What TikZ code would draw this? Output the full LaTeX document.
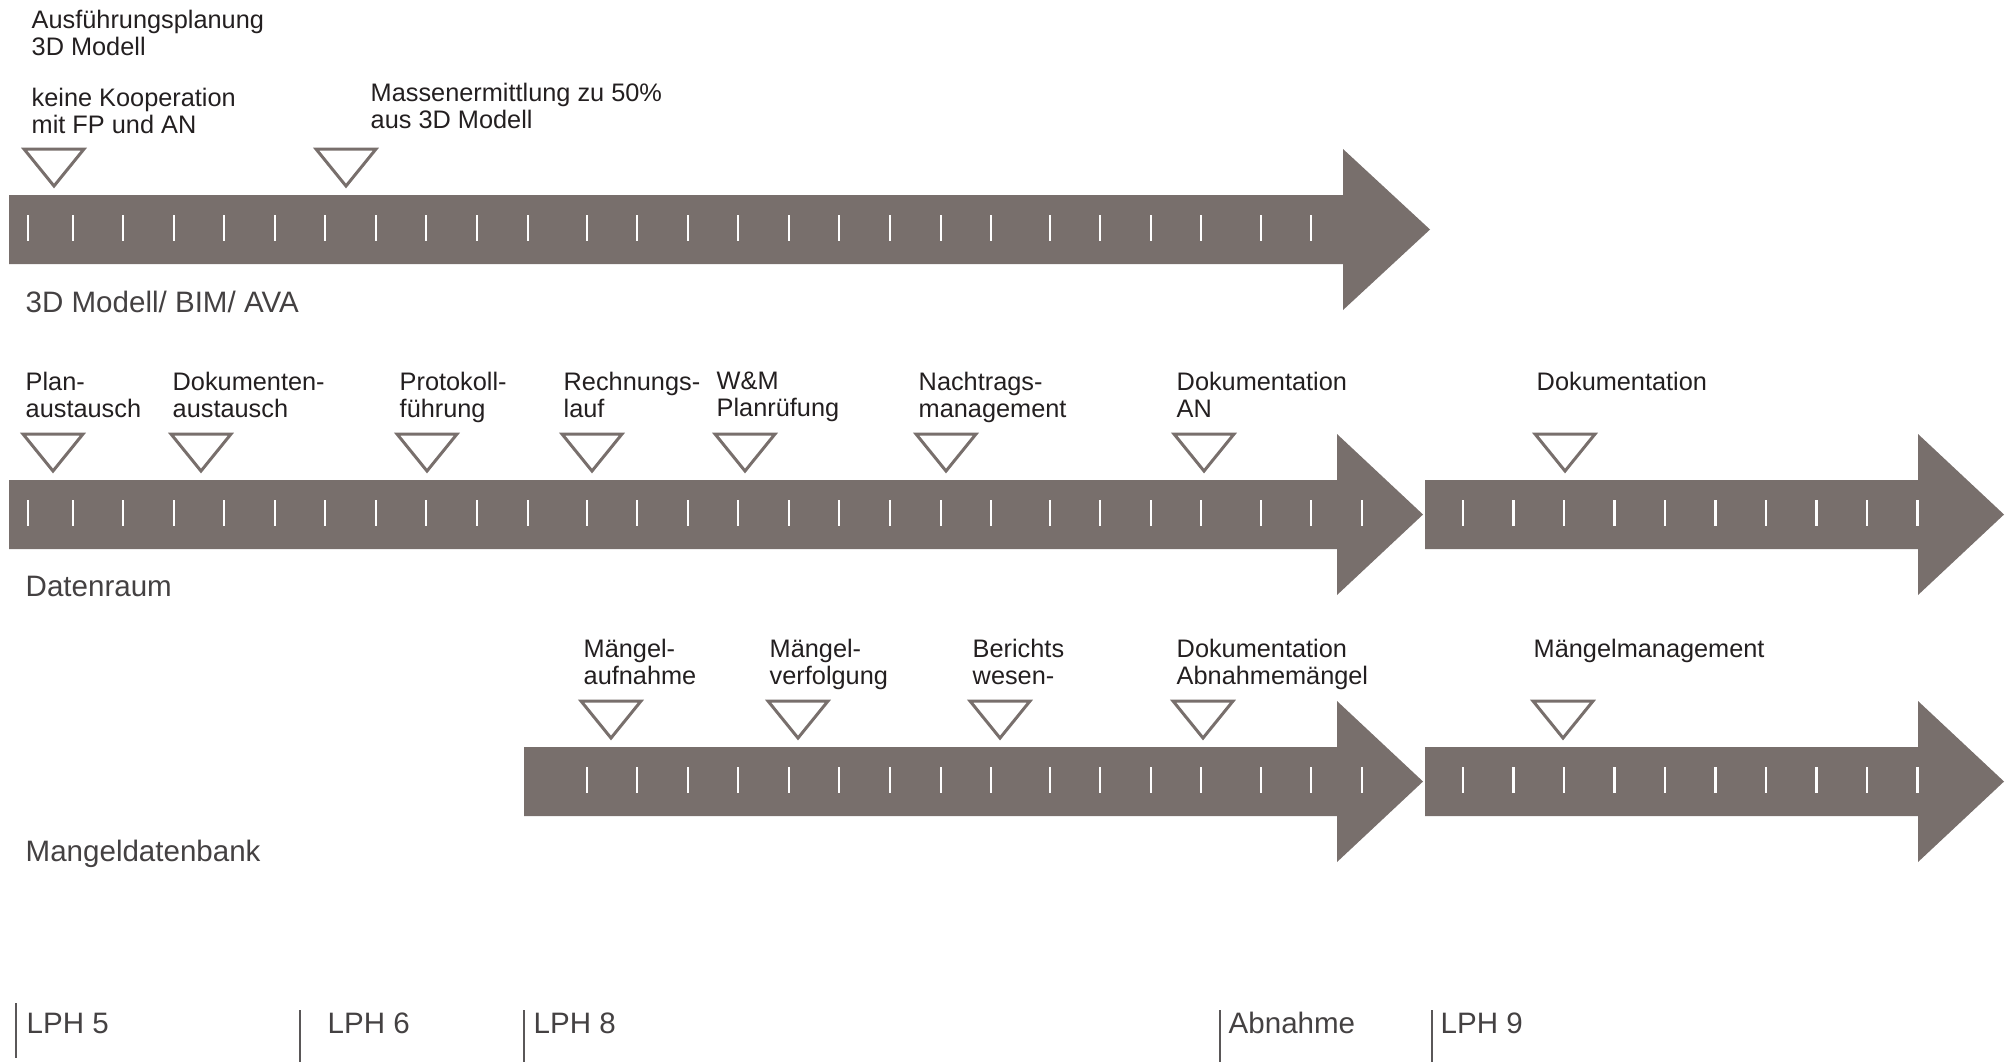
\documentclass[tikz,border=0pt]{standalone}
\usepackage{fontspec}
\setmainfont{Liberation Sans}
\usepackage{tikz}
\usepackage{xcolor}

\definecolor{bargray}{RGB}{120,111,108}
\definecolor{txtdark}{RGB}{35,31,32}

\begin{document}
\begin{tikzpicture}[x=0.01cm, y=-0.01cm,
        lbl/.style={anchor=north west, inner sep=0pt, align=left, text=txtdark, font=\fontsize{7.2pt}{7.7pt}\selectfont},
        rowname/.style={anchor=base west, inner sep=0pt, text=txtdark!85, font=\fontsize{8.4pt}{10pt}\selectfont},
        marker/.style={draw=bargray, line width=0.85pt, fill=white},
        bar/.style={fill=bargray},
        tickmark/.style={draw=white, line width=0.8pt},
        phase/.style={draw=txtdark!75, line width=0.8pt}]
        \useasboundingbox (0,0) rectangle (2010,1062);

        % 3D Modell/ BIM/ AVA
        \fill[bar] (9,195) -- (1343,195) -- (1343,149) -- (1430,229.5) -- (1343,310) -- (1343,264) -- (9,264) -- cycle;
        \foreach \x in {28,73,123,174,224,275,325,376,426,477,528,587,637,688,738,789,839,890,941,991,1050,1100,1151,1201,1261,1311}
            \draw[tickmark] (\x,215) -- (\x,241);
        \foreach \x in {54,346}
            \draw[marker] ({\x-30},149) -- ({\x+30},149) -- (\x,186) -- cycle;

        % Datenraum
        \fill[bar] (9,480) -- (1337,480) -- (1337,434) -- (1423,514.5) -- (1337,595) -- (1337,549) -- (9,549) -- cycle;
        \fill[bar] (1425,480) -- (1918,480) -- (1918,434) -- (2004,514.5) -- (1918,595) -- (1918,549) -- (1425,549) -- cycle;
        \foreach \x in {28,73,123,174,224,275,325,376,426,477,528,587,637,688,738,789,839,890,941,991,1050,1100,1151,1201,1261,1311,1362}
            \draw[tickmark] (\x,500) -- (\x,526);
        \foreach \i in {0,...,9}
            \draw[tickmark] ({1463+50.5*\i},500) -- ({1463+50.5*\i},526);
        \foreach \x in {53,201,427,592,745,946,1204,1565}
            \draw[marker] ({\x-30},434) -- ({\x+30},434) -- (\x,471) -- cycle;

        % Mangeldatenbank
        \fill[bar] (524,747) -- (1337,747) -- (1337,701) -- (1423,781.5) -- (1337,862) -- (1337,816) -- (524,816) -- cycle;
        \fill[bar] (1425,747) -- (1918,747) -- (1918,701) -- (2004,781.5) -- (1918,862) -- (1918,816) -- (1425,816) -- cycle;
        \foreach \x in {587,637,688,738,789,839,890,941,991,1050,1100,1151,1201,1261,1311,1362}
            \draw[tickmark] (\x,767) -- (\x,793);
        \foreach \i in {0,...,9}
            \draw[tickmark] ({1463+50.5*\i},767) -- ({1463+50.5*\i},793);
        \foreach \x in {611,798,1000,1203,1563}
            \draw[marker] ({\x-30},701) -- ({\x+30},701) -- (\x,738) -- cycle;

        % labels
        \node[lbl] (ausf) at (31,9.5) {Ausführungsplanung\\3D Modell};
        \node[lbl] (koop) at (31,87.5) {keine Kooperation\\mit FP und AN};
        \node[lbl] (masse) at (370,82.5) {Massenermittlung zu 50\%\\aus 3D Modell};

        \node[lbl] (plan) at (25,371.5) {Plan-\\austausch};
        \node[lbl] (dokaus) at (172,371.5) {Dokumenten-\\austausch};
        \node[lbl] (proto) at (399,371.5) {Protokoll-\\führung};
        \node[lbl] (rechn) at (563,371.5) {Rechnungs-\\lauf};
        \node[lbl] (wm) at (716,371.5) {W\&M\\Planrüfung};
        \node[lbl] (nachtr) at (918,371.5) {Nachtrags-\\management};
        \node[lbl] (dokan) at (1176,371.5) {Dokumentation\\AN};
        \node[lbl] (dokneun) at (1536,371.5) {Dokumentation};

        \node[lbl] (maufn) at (583,638.5) {Mängel-\\aufnahme};
        \node[lbl] (mverf) at (769,638.5) {Mängel-\\verfolgung};
        \node[lbl] (bericht) at (972,638.5) {Berichts\\wesen-};
        \node[lbl] (dokabn) at (1176,638.5) {Dokumentation\\Abnahmemängel};
        \node[lbl] (mmgmt) at (1533,638.5) {Mängelmanagement};

        \node[rowname] (bim) at (25,312) {3D Modell/ BIM/ AVA};
        \node[rowname] (daten) at (25,596) {Datenraum};
        \node[rowname] (mangel) at (25,861) {Mangeldatenbank};

        % Leistungsphasen
        \draw[phase] (16,1003) -- (16,1058);
        \foreach \x in {300,524,1220,1432}
            \draw[phase] (\x,1010) -- (\x,1062);
        \node[rowname] (lph5) at (26,1033) {LPH 5};
        \node[rowname] (lph6) at (327,1033) {LPH 6};
        \node[rowname] (lph8) at (533,1033) {LPH 8};
        \node[rowname] (abn) at (1228,1033) {Abnahme};
        \node[rowname] (lph9) at (1440,1033) {LPH 9};
    \end{tikzpicture}
\end{document}
